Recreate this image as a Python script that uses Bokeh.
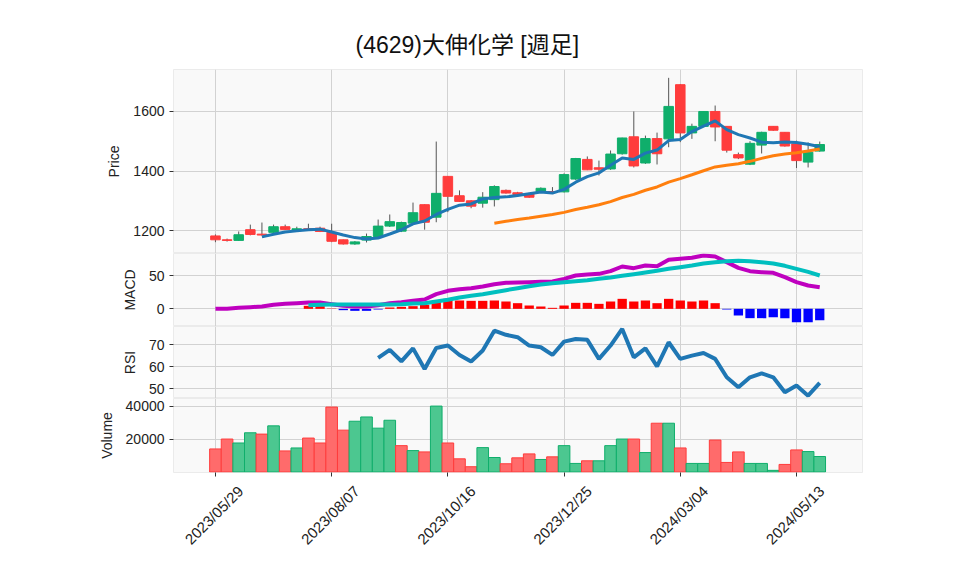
import math
import numpy as np
import pandas as pd
from bokeh.plotting import figure
from bokeh.layouts import column
from bokeh.models import FixedTicker, Range1d, ColumnDataSource, LinearAxis
from bokeh.embed import file_html
from bokeh.resources import INLINE

# ---------------- data ----------------
tick_idx = [0, 10, 20, 30, 40, 50]
tick_labels = ["2023/05/29", "2023/08/07", "2023/10/16", "2023/12/25", "2024/03/04", "2024/05/13"]

opens = [1182, 1169, 1167, 1203, 1188, 1194, 1213, 1202, 1206, 1208,
         1194, 1169, 1155, 1168, 1180, 1215, 1198, 1225, 1287, 1245,
         1382, 1317, 1300, 1292, 1304, 1335, 1327, 1323, 1331, 1331,
         1330, 1373, 1439, 1411, 1407, 1458, 1515, 1427, 1509, 1508,
         1690, 1528, 1550, 1600, 1550, 1455, 1423, 1487, 1550, 1530,
         1491, 1430, 1467]
highs = [1187, 1173, 1197, 1220, 1227, 1220, 1220, 1213, 1223, 1213,
         1223, 1170, 1165, 1190, 1237, 1254, 1230, 1294, 1288, 1499,
         1383, 1335, 1302, 1329, 1352, 1338, 1330, 1326, 1345, 1346,
         1392, 1444, 1449, 1435, 1469, 1512, 1600, 1519, 1529, 1713,
         1692, 1559, 1601, 1620, 1551, 1462, 1500, 1532, 1551, 1531,
         1502, 1496, 1499]
lows = [1161, 1163, 1165, 1184, 1183, 1192, 1202, 1200, 1202, 1195,
        1161, 1153, 1152, 1160, 1178, 1212, 1195, 1222, 1203, 1228,
        1262, 1296, 1275, 1277, 1281, 1324, 1318, 1310, 1328, 1324,
        1328, 1370, 1403, 1385, 1404, 1455, 1412, 1424, 1422, 1480,
        1497, 1508, 1548, 1500, 1462, 1440, 1420, 1459, 1535, 1482,
        1410, 1412, 1465]
closes = [1169, 1167, 1186, 1187, 1185, 1213, 1204, 1206, 1204, 1197,
          1164, 1155, 1162, 1180, 1215, 1230, 1227, 1260, 1228, 1325,
          1315, 1298, 1282, 1312, 1348, 1326, 1321, 1312, 1342, 1329,
          1388, 1442, 1404, 1406, 1457, 1511, 1417, 1509, 1458, 1617,
          1528, 1550, 1600, 1548, 1470, 1444, 1493, 1530, 1537, 1484,
          1435, 1463, 1489]
volumes = [14000, 20000, 17600, 23800, 23000, 28000, 12800, 14600, 20600, 17600,
           39400, 25400, 30800, 33400, 26600, 31400, 16000, 13000, 12200, 40000,
           17600, 8000, 3200, 14800, 8800, 5000, 8600, 11000, 7600, 9200,
           16000, 5200, 6800, 6800, 16000, 20000, 20000, 11800, 29600, 29600,
           14600, 5200, 5200, 19400, 5800, 12200, 5200, 5200, 1000, 4600,
           13400, 12400, 9400]
macd = [0, 0.3, 1.5, 2.5, 3.5, 6, 7.5, 8.5, 9.5, 9.5,
        7, 4.5, 3.5, 3.5, 5.5, 8.5, 10, 12, 14, 22,
        27, 29.5, 31, 33.5, 37, 39, 39.5, 40, 40.5, 41,
        45, 50, 51.5, 52.5, 56.5, 63.5, 61, 65, 64, 73.5,
        75, 76.5, 80, 78.5, 70, 61.5, 56.5, 55, 54, 47.5,
        40, 35, 32.5]
signal = [None, None, None, None, None, None, None, None, 5.5, 6,
          6.5, 6.5, 6.5, 6.5, 6.5, 6.5, 7, 8, 8.5, 11,
          13.5, 17, 19.5, 22, 25, 28, 31, 34, 36.5, 38.5,
          40, 41.5, 43, 45, 47, 49.5, 52, 54.5, 57, 60,
          62.5, 65, 68, 70, 71.5, 72, 71.5, 70, 68, 64.5,
          60, 55.5, 50]
hist = [None, None, None, None, None, None, None, None, 4.5, 4,
        0.5, -2, -3, -3, -1, 2, 3, 4, 6, 12,
        15, 12.5, 12, 12, 12.5, 11, 8.5, 5, 3.5, 1.5,
        5, 9, 9, 7.5, 11, 15, 11, 12.5, 8.5, 15,
        12.5, 11, 12.5, 8.5, -1, -10, -14, -14, -12.5, -14,
        -20, -20, -17]
rsi = [None, None, None, None, None, None, None, None, None, None,
       None, None, None, None, 64.1, 67.7, 62.5, 68.4, 59.0, 68.6,
       69.7, 65.4, 62.4, 67.4, 76.5, 74.6, 73.5, 69.7, 68.9, 65.4,
       71.5, 72.7, 72.3, 63.6, 69.7, 77.3, 64.3, 68.4, 60.2, 71.2,
       63.6, 65.1, 66.3, 63.6, 55.2, 50.6, 55.2, 57.0, 55.2, 48.4,
       51.4, 46.8, 52.6]

title_text = "(4629)大伸化学  [週足]"

# ---------------- styling ----------------
FONT = "Liberation Sans"
GREEN = "#0fae6b"
RED = "#ff3c3c"
VGREEN = "#4cc790"
VRED = "#ff6b6b"
BG = "#f9f9f9"
GRID = "#d2d2d2"

n = len(closes)
idx = np.arange(n)
c_arr = np.array(closes, dtype=float)
o_arr = np.array(opens, dtype=float)
ma5 = pd.Series(c_arr).rolling(5).mean().to_numpy()
ma25 = pd.Series(c_arr).rolling(25).mean().to_numpy()

up = c_arr >= o_arr
cdl = ColumnDataSource(dict(
    x=idx, o=o_arr, c=c_arr, h=np.array(highs, float), l=np.array(lows, float),
    top=np.maximum(o_arr, c_arr), bot=np.minimum(o_arr, c_arr),
    color=[GREEN if u else RED for u in up]))

vol_up = [bool(closes[0] >= opens[0])] + [closes[i] > closes[i - 1] for i in range(1, n)]
vsrc = ColumnDataSource(dict(x=idx, v=volumes,
                             fill=[VGREEN if u else VRED for u in vol_up],
                             edge=[GREEN if u else RED for u in vol_up]))

X0, X1 = -3.61, 55.68
XR = Range1d(X0, X1)
LBL_SHIFT = 2.15


def make_fig(yr, fh, yticks, ylabel, **kw):
    p = figure(frame_width=689, frame_height=fh, x_range=XR, y_range=yr,
               output_backend="svg", toolbar_location=None,
               min_border_left=173, min_border_right=88,
               background_fill_color=BG, border_fill_color="white", **kw)
    p.outline_line_color = "#ebebeb"
    p.xgrid.ticker = FixedTicker(ticks=tick_idx)
    p.ygrid.ticker = FixedTicker(ticks=yticks)
    p.grid.grid_line_color = GRID
    p.grid.grid_line_width = 1
    ax = p.yaxis[0]
    ax.ticker = FixedTicker(ticks=yticks)
    ax.axis_label = ylabel
    ax.axis_label_text_font = FONT
    ax.axis_label_text_font_size = "14px"
    ax.axis_label_text_font_style = "normal"
    ax.axis_label_text_color = "#222222"
    ax.axis_label_standoff = 8
    ax.major_label_text_font = FONT
    ax.major_label_text_font_size = "14px"
    ax.major_label_text_color = "#222222"
    ax.axis_line_color = None
    ax.major_tick_line_color = "#333333"
    ax.major_tick_out = 4
    ax.major_tick_in = 0
    ax.minor_tick_line_color = None
    return p


# Price panel
p1 = make_fig(Range1d(1123, 1741), 184, [1200, 1400, 1600], "Price",
              min_border_top=69, min_border_bottom=0)
p1.xaxis.visible = False
p1.title.text = title_text
p1.title.align = "left"
p1.title.offset = 182
p1.title.standoff = 24
p1.title.text_font = "Liberation Sans, Noto Sans CJK JP"
p1.title.text_font_size = "23px"
p1.title.text_font_style = "normal"
p1.title.text_color = "#111111"
p1.segment(x0="x", y0="l", x1="x", y1="h", source=cdl, line_color="#555555", line_width=1)
p1.vbar(x="x", top="top", bottom="bot", width=0.82, source=cdl,
        fill_color="color", line_color="color", line_width=1)
p1.line(idx, ma5, line_color="#1f77b4", line_width=3)
p1.line(idx, ma25, line_color="#ff7f0e", line_width=3)

# MACD panel
p2 = make_fig(Range1d(-26.5, 83), 73, [0, 50], "MACD", min_border_top=0, min_border_bottom=0)
p2.xaxis.visible = False
h_arr = np.array(hist, dtype=float)
mask = ~np.isnan(h_arr)
hx = idx[mask]
hv = h_arr[mask]
p2.vbar(x=hx, top=hv, bottom=0, width=0.8,
        fill_color=["#ff0000" if v >= 0 else "#0000ff" for v in hv], line_color=None)
p2.line(idx, np.array(macd, dtype=float), line_color="#bf00bf", line_width=4)
p2.line(idx, np.array(signal, dtype=float), line_color="#00bfbf", line_width=4)

# RSI panel
p3 = make_fig(Range1d(45.5, 78.4), 72, [50, 60, 70], "RSI", min_border_top=0, min_border_bottom=0)
p3.xaxis.visible = False
p3.line(idx, np.array(rsi, dtype=float), line_color="#1f77b4", line_width=4)

# Volume panel
p4 = make_fig(Range1d(-300, 44600), 74, [20000, 40000], "Volume", min_border_top=0, min_border_bottom=0)
p4.vbar(x="x", top="v", bottom=0, width=1.0, source=vsrc,
        fill_color="fill", line_color="edge", line_width=1)
xa = p4.xaxis[0]
xa.ticker = FixedTicker(ticks=tick_idx)
xa.major_label_overrides = {t: "" for t in tick_idx}
xa.major_label_text_font_size = "1px"
xa.major_label_standoff = 0
xa.axis_line_color = None
xa.major_tick_line_color = "#333333"
xa.major_tick_out = 4
xa.major_tick_in = 0
xa.minor_tick_line_color = None

# date labels: a second axis on a shifted range so the rotated labels sit centred under the ticks
p4.extra_x_ranges = {"lab": Range1d(X0 - LBL_SHIFT, X1 - LBL_SHIFT)}
lab_axis = LinearAxis(x_range_name="lab", ticker=FixedTicker(ticks=tick_idx),
                      major_label_overrides={t: s for t, s in zip(tick_idx, tick_labels)},
                      major_label_orientation=math.pi / 4,
                      major_label_text_font=FONT, major_label_text_font_size="15px",
                      major_label_text_color="#222222", major_label_standoff=12,
                      major_tick_line_color=None, major_tick_out=0, major_tick_in=0,
                      minor_tick_line_color=None, axis_line_color=None)
p4.add_layout(lab_axis, "below")

layout = column(p1, p2, p3, p4, spacing=0)
open("out.html", "w").write(file_html(layout, INLINE))
